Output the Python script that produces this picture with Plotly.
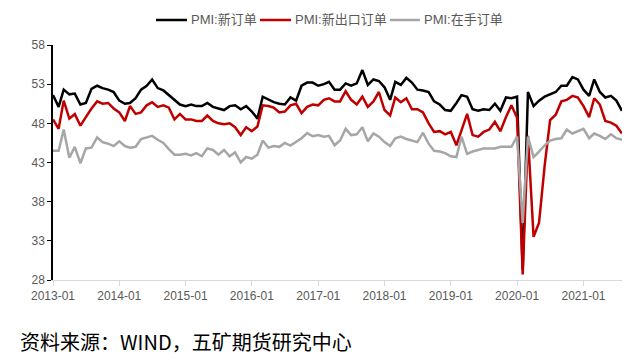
import pandas as pd
import plotly.graph_objects as go

# Monthly series, 2013-01 .. 2021-08
start_month = "2013-01-01"

new_orders = [
    51.6, 50.1, 52.3, 51.7, 51.8, 50.4, 50.6, 52.4, 52.8, 52.5, 52.3, 52.0,
    50.9, 50.5, 50.6, 51.2, 52.3, 52.8, 53.6, 52.5, 52.2, 51.6, 50.9, 50.4,
    50.2, 50.4, 50.2, 50.2, 50.6, 50.1, 49.9, 49.7, 50.2, 50.3, 49.8, 50.2,
    49.5, 48.6, 51.4, 51.0, 50.7, 50.5, 50.4, 51.3, 50.9, 52.8, 53.2, 53.2,
    52.8, 53.0, 53.3, 52.3, 52.3, 53.1, 52.8, 53.1, 54.8, 52.9, 53.6, 53.4,
    52.6, 51.0, 53.3, 52.9, 53.8, 53.2, 52.3, 52.2, 52.0, 50.8, 50.4, 49.7,
    49.6, 50.6, 51.6, 51.4, 49.8, 49.6, 49.8, 49.7, 50.5, 49.6, 51.3, 51.2,
    51.4, 29.3, 52.0, 50.2, 50.9, 51.4, 51.7, 52.0, 52.8, 52.8, 53.9, 53.6,
    52.3, 51.5, 53.6, 52.0, 51.3, 51.5, 50.9, 49.6,
]

new_export_orders = [
    48.5, 47.3, 50.9, 48.6, 49.2, 47.7, 48.8, 49.9, 50.8, 50.5, 50.6, 49.9,
    49.4, 48.3, 50.2, 49.2, 49.4, 50.3, 50.7, 50.1, 50.3, 50.0, 48.5, 49.2,
    48.5, 48.5, 48.3, 48.3, 49.0, 48.3, 48.0, 47.9, 48.0, 47.5, 46.5, 47.5,
    47.0, 47.6, 50.3, 50.2, 50.0, 49.4, 49.5, 50.3, 50.5, 49.3, 50.1, 50.4,
    50.3, 51.0, 51.2, 50.8, 50.8, 52.1, 51.0, 50.4, 51.4, 50.1, 50.8, 52.0,
    49.7, 49.0, 51.3, 50.7, 51.2, 49.8, 49.8, 49.4, 48.0, 46.9, 47.0, 46.6,
    46.9, 45.2, 47.1, 49.2, 46.5, 46.3, 46.9, 47.2, 48.2, 47.0, 48.8, 50.3,
    48.7, 28.7, 46.4, 33.5, 35.3, 42.6, 48.4, 49.1, 50.8, 51.0, 51.5, 51.3,
    50.2, 48.8, 51.2, 50.4, 48.3, 48.1, 47.7, 46.7,
]

backlog_orders = [
    44.5, 44.5, 47.2, 43.6, 45.0, 42.9, 44.8, 44.9, 46.2, 45.6, 45.4, 45.1,
    45.7, 45.1, 44.9, 45.0, 46.0, 46.2, 46.4, 45.9, 45.5, 44.7, 44.0, 44.0,
    44.1, 43.9, 44.2, 43.8, 44.8, 44.6, 44.0, 44.6, 43.8, 44.3, 43.0, 43.7,
    43.5, 44.0, 45.8, 44.9, 45.1, 45.0, 45.5, 45.15, 45.6, 46.1, 46.75, 46.35,
    46.5, 46.3, 46.4, 45.2, 45.8, 47.3, 46.5, 46.6, 47.5, 45.7, 46.7, 46.3,
    45.6, 45.1, 46.1, 46.3, 46.0, 45.8, 45.6, 46.8, 45.4, 44.5, 44.4, 44.2,
    43.8, 43.7, 46.3, 44.1, 44.4, 44.6, 44.8, 44.8, 44.8, 45.0, 45.0, 45.0,
    46.3, 35.3, 46.3, 43.7, 44.4, 45.2, 45.8, 46.0, 46.1, 47.2, 46.7, 47.0,
    47.3, 46.1, 46.7, 46.4, 46.0, 46.6, 46.1, 45.9,
]

series_names = ["PMI:新订单", "PMI:新出口订单", "PMI:在手订单"]
series_colors = ["#000000", "#C00000", "#A6A6A6"]

y_ticks = [28, 33, 38, 43, 48, 53, 58]
x_tick_labels = ["2013-01", "2014-01", "2015-01", "2016-01", "2017-01",
                 "2018-01", "2019-01", "2020-01", "2021-01"]
source_text = "资料来源：WIND，五矿期货研究中心"

dates = pd.date_range(start_month, periods=len(new_orders), freq="MS")
tick_dates = pd.to_datetime([t + "-01" for t in x_tick_labels])

FONT = "Liberation Sans, Noto Sans CJK SC, sans-serif"

# plot area in pixels
L, R, T, B = 53, 622, 45, 280
W, H = 640, 363


def px_x(p):
    return (p - L) / (R - L)


def px_y(p):
    return (B - p) / (B - T)


fig = go.Figure()
for name, vals, col in zip(series_names,
                           [new_orders, new_export_orders, backlog_orders],
                           series_colors):
    fig.add_trace(go.Scatter(x=dates, y=vals, mode="lines", name=name,
                             line=dict(color=col, width=2.5),
                             showlegend=False))

# Manual compact legend (line sample + label)
legend_line_x = [(156, 187), (260, 291), (390, 420)]
legend_y = 20
shapes = []
annotations = []
for (x0, x1), name, col in zip(legend_line_x, series_names, series_colors):
    shapes.append(dict(type="line", xref="paper", yref="paper",
                       x0=px_x(x0), x1=px_x(x1),
                       y0=px_y(legend_y), y1=px_y(legend_y),
                       line=dict(color=col, width=2.5)))
    annotations.append(dict(text=name, xref="paper", yref="paper",
                            x=px_x(x1 + 2), y=px_y(legend_y),
                            xanchor="left", yanchor="middle", showarrow=False,
                            font=dict(family=FONT, size=13, color="#595959")))

annotations.append(dict(
    text=source_text, xref="paper", yref="paper",
    x=px_x(18), y=px_y(341),
    xanchor="left", yanchor="middle", showarrow=False,
    font=dict(family="Noto Sans CJK SC, sans-serif", size=20, color="#000000"),
))

fig.update_layout(
    width=W, height=H,
    margin=dict(l=L, r=W - R, t=T, b=H - B, autoexpand=False),
    paper_bgcolor="white", plot_bgcolor="white",
    font=dict(family=FONT, size=12, color="#595959"),
    showlegend=False,
    xaxis=dict(
        range=[dates[0], dates[-1]],
        tickvals=tick_dates, ticktext=x_tick_labels,
        showgrid=False, zeroline=False,
        showline=True, linecolor="#D9D9D9", linewidth=1,
        ticks="outside", ticklen=5, tickcolor="#D9D9D9",
        tickfont=dict(family=FONT, size=12, color="#595959"),
    ),
    yaxis=dict(
        range=[28, 58], tickvals=y_ticks,
        showgrid=False, zeroline=False,
        showline=True, linecolor="#000000", linewidth=1.5,
        ticks="outside", ticklen=4, tickcolor="#000000",
        tickfont=dict(family=FONT, size=12, color="#595959"),
    ),
    shapes=shapes,
    annotations=annotations,
)

fig.write_html("out.html",
               config={"displayModeBar": False},
               post_script="document.body.style.margin='0';"
                           "document.body.style.overflow='hidden';")
